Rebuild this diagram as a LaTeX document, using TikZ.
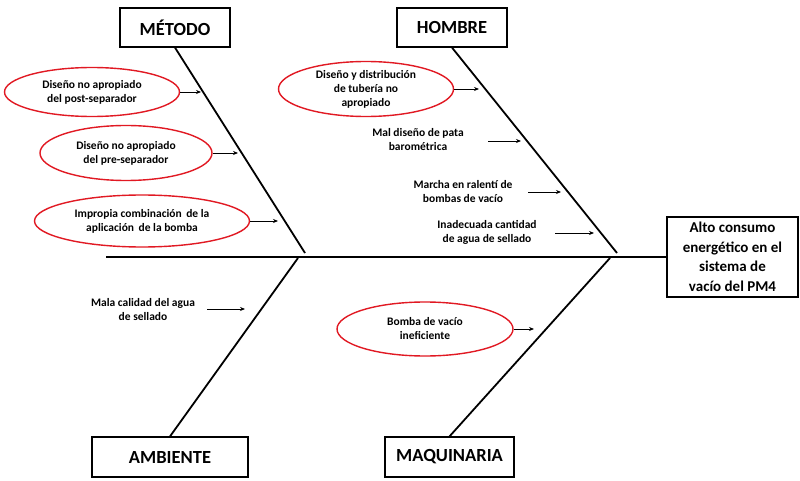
\documentclass[tikz,border=0pt]{standalone}
\usepackage{fontspec}
\setmainfont{Carlito}
\usetikzlibrary{shapes.geometric,arrows.meta}
\definecolor{ellred}{RGB}{225,25,35}
\begin{document}
\begin{tikzpicture}[x=1pt,y=-1pt,
  catbox/.style={draw,line width=1.2pt,inner sep=0pt,font=\bfseries\fontsize{18.5}{20}\selectfont},
  cause/.style={draw=ellred,line width=1.4pt,ellipse,inner sep=0pt,align=center,font=\bfseries\fontsize{11.5}{14}\selectfont},
  plain/.style={align=center,inner sep=0pt,font=\bfseries\fontsize{11.5}{14}\selectfont},
  bone/.style={line width=1.8pt},
  arr/.style={line width=0.8pt,-{Stealth[length=5pt,width=4pt]}}]
\useasboundingbox (0,0) rectangle (800,481);
\fill[white] (0,0) rectangle (800,481);
% category boxes
\node[catbox,minimum width=110pt,minimum height=39pt] (met) at (175,27.5) {MÉTODO};
\node[catbox,minimum width=110pt,minimum height=39pt] (hom) at (452,27.5) {HOMBRE};
\node[catbox,minimum width=156pt,minimum height=40pt] (amb) at (170,457) {AMBIENTE};
\node[catbox,minimum width=129pt,minimum height=40pt] (maq) at (449.5,457) {MAQUINARIA};
\node[draw,line width=1.2pt,minimum width=131pt,minimum height=80pt,inner sep=0pt,align=center,font=\bfseries\fontsize{15}{19.5}\selectfont] (eff) at (732.5,257) {Alto consumo\\energético en el\\sistema de\\vacío del PM4};
% spine
\coordinate (tail) at (106,257);
\draw[bone] (tail) -- (eff.west);
% bones
\coordinate (mEnd) at (305,253);
\coordinate (hEnd) at (617,253);
\coordinate (aEnd) at (298,258);
\coordinate (qEnd) at (610,258);
\draw[bone] (met.south) -- (mEnd);
\draw[bone] (hom.south) -- (hEnd);
\draw[bone] (amb.north) -- (aEnd);
\draw[bone] (maq.north) -- (qEnd);
% MÉTODO causes
\node[cause,minimum width=175pt,minimum height=49pt] (c1) at (92,92) {Diseño no apropiado\\del post-separador};
\node[cause,minimum width=172pt,minimum height=55pt] (c2) at (126,153) {Diseño no apropiado\\del pre-separador};
\node[cause,minimum width=215pt,minimum height=52pt] (c3) at (142,221) {Impropia combinación\, de la\\aplicación\, de la bomba};
\coordinate (t1) at (201,92);
\coordinate (t2) at (238,153);
\coordinate (t3) at (278,221);
\draw[arr] (c1.east) -- (t1);
\draw[arr] (c2.east) -- (t2);
\draw[arr] (c3.east) -- (t3);
% HOMBRE causes
\node[cause,minimum width=175pt,minimum height=55pt] (c4) at (366,89) {Diseño y distribución\\de tubería no\\apropiado};
\coordinate (t4) at (479,89);
\draw[arr] (c4.east) -- (t4);
\node[plain] (c5) at (418,140) {Mal diseño de pata\\barométrica};
\coordinate (s5) at (488,141);
\coordinate (t5) at (521,141);
\draw[arr] (s5) -- (t5);
\node[plain] (c6) at (463,192) {Marcha en ralentí de\\bombas de vacío};
\coordinate (s6) at (528,192);
\coordinate (t6) at (561,192);
\draw[arr] (s6) -- (t6);
\node[plain] (c7) at (487,232) {Inadecuada cantidad\\de agua de sellado};
\coordinate (s7) at (555,233);
\coordinate (t7) at (594,233);
\draw[arr] (s7) -- (t7);
% AMBIENTE
\node[plain] (c8) at (143,310) {Mala calidad del agua\\de sellado};
\coordinate (s8) at (207,309);
\coordinate (t8) at (245,309);
\draw[arr] (s8) -- (t8);
% MAQUINARIA
\node[cause,minimum width=176pt,minimum height=54pt] (c9) at (425,329) {Bomba de vacío\\ineficiente};
\coordinate (t9) at (534,329);
\draw[arr] (c9.east) -- (t9);
\end{tikzpicture}
\end{document}
